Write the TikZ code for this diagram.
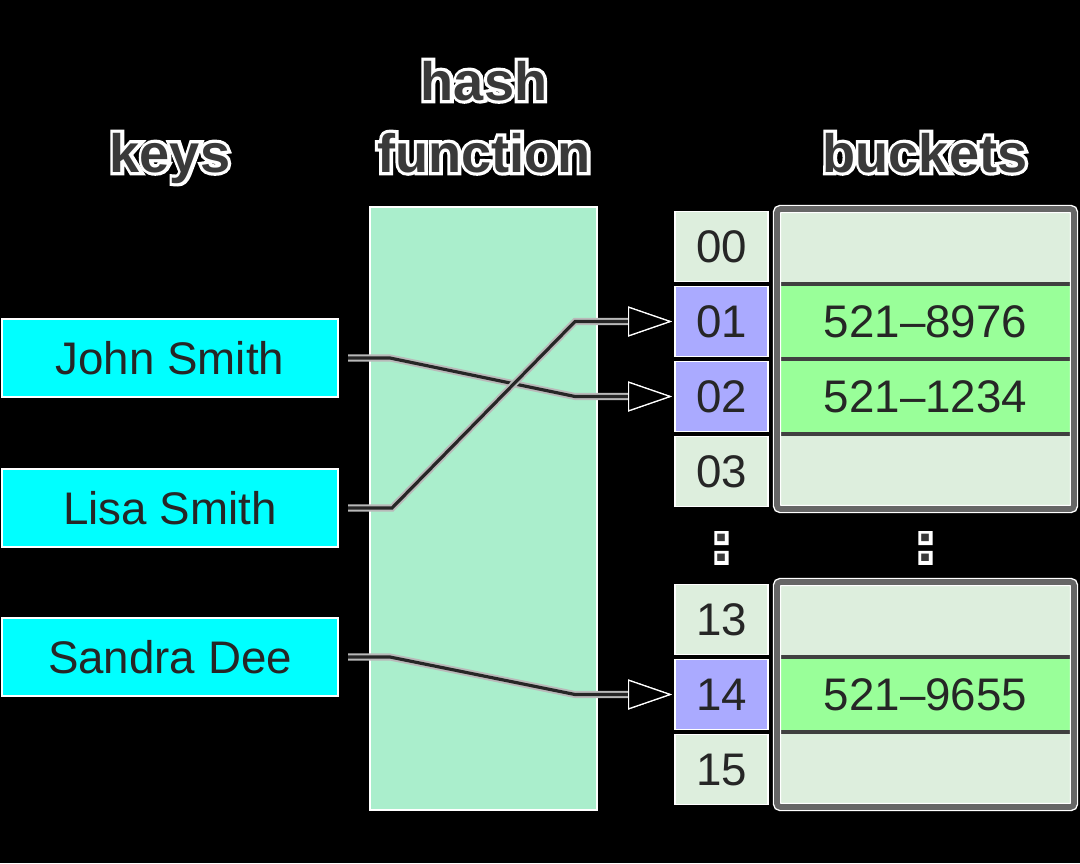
\documentclass[tikz,border=0pt]{standalone}
\usepackage{fontspec}
\setmainfont{Liberation Sans}
\newfontfamily\halofont{Liberation Sans}[BoldFeatures={FakeBold=12}]
\usetikzlibrary{positioning, arrows.meta}
\definecolor{keycyan}{HTML}{00FFFF}
\definecolor{hashgreen}{HTML}{AAEECC}
\definecolor{cellgray}{HTML}{DDEEDD}
\definecolor{hitblue}{HTML}{AAAAFF}
\definecolor{entrygreen}{HTML}{99FF99}
\definecolor{titlegray}{HTML}{3A3A3A}
\newcommand{\halotext}[1]{\rlap{\textcolor{white}{\halofont\bfseries #1}}\textcolor{titlegray}{\bfseries #1}}

\begin{document}
\begin{tikzpicture}[font=\fontsize{13}{15}\selectfont]
        % Define block styles
        \tikzstyle{keybox} = [rectangle, draw=white, line width=0.5pt, fill=keycyan, text=black!85, minimum width=3.36cm, minimum height=0.78cm, outer sep=0pt]
        \tikzstyle{hashbox} = [rectangle, draw=white, line width=0.6pt, fill=hashgreen, minimum width=2.27cm, minimum height=6.03cm, outer sep=0pt]
        \tikzstyle{idxcell} = [rectangle, draw=white, line width=0.5pt, fill=cellgray, text=black!85, minimum width=0.93cm, minimum height=0.70cm, outer sep=0pt]
        \tikzstyle{hitcell} = [fill=hitblue]
        \tikzstyle{bucketrow} = [rectangle, draw=black!75, line width=1.1pt, fill=cellgray, text=black!85, minimum width=2.97cm, minimum height=0.75cm, outer sep=0pt]
        \tikzstyle{entry} = [fill=entrygreen]
        \tikzstyle{frame} = [draw=black!60, line width=1.6pt, rounded corners=1pt, preaction={draw=white, line width=2.4pt}]
        \tikzstyle{title} = [inner sep=0pt, anchor=base, font=\fontsize{15.4}{18}\selectfont]
        \tikzstyle{link} = [draw=black!85, line width=0.9pt, preaction={draw=gray!55, line width=2pt}, -{Triangle[length=4.4mm, width=3mm, color=white, fill=black, line width=0.35pt]}]

        % Background
        \fill[black] (0,0) rectangle (10.8,-8.63);
        \useasboundingbox (0,0) rectangle (10.8,-8.63);

        % Titles
        \node [title] (keys) at (1.70,-1.72) {\halotext{keys}};
        \node [title] (hash) at (4.84,-1.00) {\halotext{hash}};
        \node [title] (function) at (4.84,-1.72) {\halotext{function}};
        \node [title] (buckets) at (9.25,-1.72) {\halotext{buckets}};

        % Keys
        \node [keybox] (john) at (1.70,-3.58) {John Smith};
        \node [keybox, below=0.72cm of john] (lisa) {Lisa Smith};
        \node [keybox, below=0.71cm of lisa] (sandra) {Sandra Dee};

        % Hash function
        \node [hashbox] (hashfn) at (4.835,-5.085) {};

        % Index cells
        \node [idxcell] (i00) at (7.215,-2.465) {00};
        \node [idxcell, hitcell, below=0.05cm of i00] (i01) {01};
        \node [idxcell, hitcell, below=0.05cm of i01] (i02) {02};
        \node [idxcell, below=0.05cm of i02] (i03) {03};

        \node [idxcell] (i13) at (7.215,-6.195) {13};
        \node [idxcell, hitcell, below=0.05cm of i13] (i14) {14};
        \node [idxcell, below=0.05cm of i14] (i15) {15};

        % Bucket rows
        \node [bucketrow, right=0.09cm of i00] (b00) {};
        \node [bucketrow, entry, right=0.09cm of i01] (b01) {521–8976};
        \node [bucketrow, entry, right=0.09cm of i02] (b02) {521–1234};
        \node [bucketrow, right=0.09cm of i03] (b03) {};
        \draw [frame] (b00.north west) rectangle (b03.south east);

        \node [bucketrow, right=0.09cm of i13] (b13) {};
        \node [bucketrow, entry, right=0.09cm of i14] (b14) {521–9655};
        \node [bucketrow, right=0.09cm of i15] (b15) {};
        \draw [frame] (b13.north west) rectangle (b15.south east);

        % Gaps
        \node [inner sep=0pt, font=\fontsize{15.4}{18}\selectfont] (gapidx) at (7.215,-5.48) {\halotext{:}};
        \node [inner sep=0pt, font=\fontsize{15.4}{18}\selectfont] (gapbucket) at (9.255,-5.48) {\halotext{:}};

        % Connectors
        \draw [link] ([xshift=0.1cm]john.east) -- ++(0.42,0) -- ([xshift=-1cm]i02.west) -- ([xshift=-0.03cm]i02.west);
        \draw [link] ([xshift=0.1cm]lisa.east) -- ++(0.44,0) -- ([xshift=-1cm]i01.west) -- ([xshift=-0.03cm]i01.west);
        \draw [link] ([xshift=0.1cm]sandra.east) -- ++(0.42,0) -- ([xshift=-1cm]i14.west) -- ([xshift=-0.03cm]i14.west);
    \end{tikzpicture}
\end{document}
